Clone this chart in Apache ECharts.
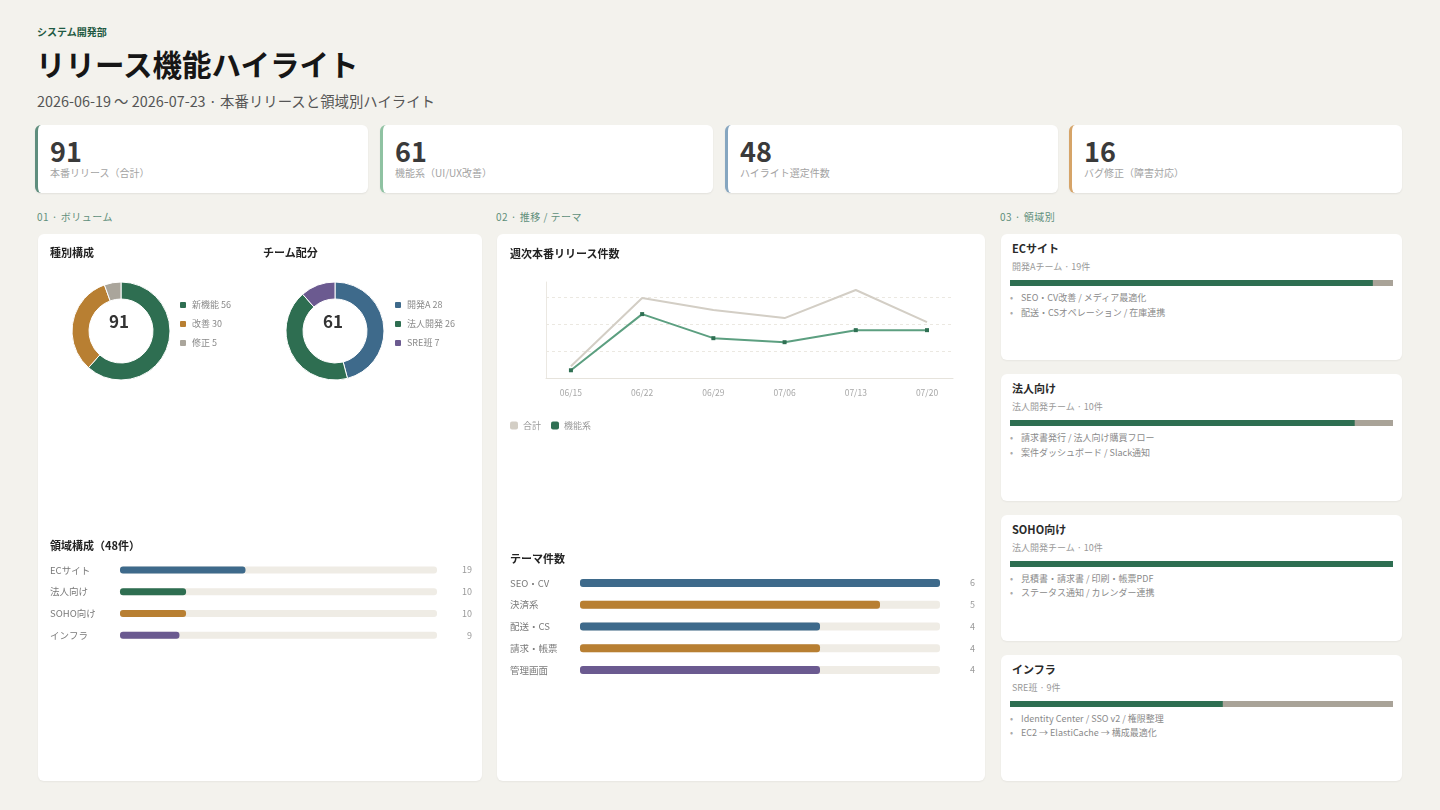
<!DOCTYPE html>
<html><head><meta charset="utf-8">
<script src="https://cdn.jsdelivr.net/npm/echarts@6/dist/echarts.min.js"></script>
<style>
*{box-sizing:border-box;margin:0;padding:0}
body{width:1440px;height:810px;background:#f3f2ed;font-family:"Noto Sans CJK JP","Noto Sans",sans-serif;position:relative;overflow:hidden;color:#222}
.abs{position:absolute;white-space:nowrap}
.dept{left:37px;top:26px;font-size:10px;line-height:12px;font-weight:700;color:#1f5a43}
.title{left:36px;top:43px;font-size:29.5px;line-height:40px;font-weight:700;color:#161616}
.sub{left:37px;top:92px;font-size:14.4px;line-height:18px;color:#555}
.kpi{top:125px;height:68px;width:333px;background:#fff;border-radius:6px;border-left:3px solid;box-shadow:0 1px 2px rgba(0,0,0,.07)}
.kpi .n{position:absolute;left:12px;top:10px;font-size:27px;line-height:32px;font-weight:700;color:#3a3a3a}
.kpi .l{position:absolute;left:12px;top:42px;font-size:10px;line-height:12px;color:#a3a3a3;white-space:nowrap}
.sec{top:211px;font-size:10px;line-height:12px;color:#5f8f7b;letter-spacing:.5px}
.panel{background:#fff;border-radius:6px;box-shadow:0 1px 2px rgba(0,0,0,.05)}
.pt{position:absolute;font-size:11px;line-height:14px;font-weight:700;color:#222;white-space:nowrap;z-index:2}
.chart{position:absolute;left:0;top:0}
.card{position:absolute;left:0;width:401px;background:#fff;border-radius:6px;box-shadow:0 1px 2px rgba(0,0,0,.05)}
.card .ct{position:absolute;left:11px;top:7px;font-size:11px;line-height:14px;font-weight:700;color:#2a2a2a}
.card .cs{position:absolute;left:11px;top:27px;font-size:9px;line-height:12px;color:#999}
.card .pb{position:absolute;left:9px;top:44px;width:383px;height:10px}
.card ul{position:absolute;left:9px;top:57px;list-style:none}
.card li{font-size:9px;line-height:14.5px;color:#8a8a8a;white-space:nowrap}
.card li:before{content:"•";display:inline-block;width:11px;color:#aaa}
</style></head>
<body>
<div class="abs dept">システム開発部</div>
<div class="abs title">リリース機能ハイライト</div>
<div class="abs sub">2026-06-19 〜 2026-07-23 · 本番リリースと領域別ハイライト</div>
<div id="kpis"></div>
<div class="abs sec" style="left:37px">01 · ボリューム</div>
<div class="abs sec" style="left:496px">02 · 推移 / テーマ</div>
<div class="abs sec" style="left:1000px">03 · 領域別</div>

<div class="abs panel" style="left:38px;top:234px;width:444px;height:547px">
  <div class="pt" style="left:12px;top:11px">種別構成</div>
  <div class="pt" style="left:225px;top:11px">チーム配分</div>
  <div class="pt" id="domTitle" style="left:12px;top:304px"></div>
  <div class="chart" id="c1" style="width:444px;height:547px"></div>
</div>
<div class="abs panel" style="left:497px;top:234px;width:488px;height:547px">
  <div class="pt" style="left:13px;top:12px">週次本番リリース件数</div>
  <div class="pt" style="left:13px;top:317px">テーマ件数</div>
  <div class="chart" id="c2" style="width:488px;height:547px"></div>
</div>
<div class="abs" id="cards" style="left:1001px;top:234px;width:401px;height:547px"></div>

<script>
// ---- data ----
const kpiValues = [91, 61, 48, 16];
const kpiLabels = ['本番リリース（合計）', '機能系（UI/UX改善）', 'ハイライト選定件数', 'バグ修正（障害対応）'];
const typeNames = ['新機能', '改善', '修正'];
const typeValues = [56, 30, 5];
const teamNames = ['開発A', '法人開発', 'SRE班'];
const teamValues = [28, 26, 7];
const domainNames = ['ECサイト', '法人向け', 'SOHO向け', 'インフラ'];
const domainValues = [19, 10, 10, 9];
const domainFeature = [18, 9, 10, 5];
const domainTeams = ['開発Aチーム', '法人開発チーム', '法人開発チーム', 'SRE班'];
const domainNotes = [
  ['SEO・CV改善 / メディア最適化', '配送・CSオペレーション / 在庫連携'],
  ['請求書発行 / 法人向け購買フロー', '案件ダッシュボード / Slack通知'],
  ['見積書・請求書 / 印刷・帳票PDF', 'ステータス通知 / カレンダー連携'],
  ['Identity Center / SSO v2 / 権限整理', 'EC2 → ElastiCache → 構成最適化']
];
const weeks = ['06/15', '06/22', '06/29', '07/06', '07/13', '07/20'];
const weeklyTotal = [3, 20, 17, 15, 22, 14];
const weeklyFeature = [2, 16, 10, 9, 12, 12];
const themeNames = ['SEO・CV', '決済系', '配送・CS', '請求・帳票', '管理画面'];
const themeValues = [6, 5, 4, 4, 4];

// ---- styles ----
const FONT = '"Noto Sans CJK JP","Noto Sans",sans-serif';
const kpiColors = ['#5f8e7e', '#8fc2a2', '#86a6c0', '#d6a468'];
const typeColors = ['#2e6e51', '#b87f32', '#aaa59b'];
const teamColors = ['#3e6a8b', '#2e6e51', '#6b5a90'];
const domainColors = ['#3e6a8b', '#2e6e51', '#b87f32', '#6b5a90'];
const themeColors = ['#3e6a8b', '#b87f32', '#3e6a8b', '#b87f32', '#6b5a90'];
const sum = a => a.reduce((s, v) => s + v, 0);

// KPI cards
const kpiLefts = [35, 380, 725, 1069];
document.getElementById('kpis').innerHTML = kpiValues.map((v, i) =>
  `<div class="abs kpi" style="left:${kpiLefts[i]}px;border-left-color:${kpiColors[i]}"><div class="n">${v}</div><div class="l">${kpiLabels[i]}</div></div>`).join('');
document.getElementById('domTitle').textContent = `領域構成（${sum(domainValues)}件）`;

// ---- panel 1 ----
const c1 = echarts.init(document.getElementById('c1'), null, {renderer: 'canvas'});
const legendBase = {
  orient: 'vertical', icon: 'roundRect', itemWidth: 8, itemHeight: 8, itemGap: 9, padding: 0,
  textStyle: {fontSize: 9, color: '#8a8a8a', fontFamily: FONT},
  selectedMode: false
};
c1.setOption({
  animation: false,
  textStyle: {fontFamily: FONT},
  legend: [
    Object.assign({}, legendBase, {left: 140, top: 66, data: typeNames,
      formatter: n => n + ' ' + typeValues[typeNames.indexOf(n)]}),
    Object.assign({}, legendBase, {left: 355, top: 66, data: teamNames,
      formatter: n => n + ' ' + teamValues[teamNames.indexOf(n)]})
  ],
  graphic: [
    {type: 'text', left: 83 - 12, top: 89 - 10, style: {text: String(sum(typeValues)), font: 'bold 17px ' + FONT, fill: '#333', width: 24, align: 'center'}},
    {type: 'text', left: 297 - 12, top: 89 - 10, style: {text: String(sum(teamValues)), font: 'bold 17px ' + FONT, fill: '#333', width: 24, align: 'center'}}
  ],
  grid: {left: 82, top: 325.2, width: 317, height: 86.8},
  xAxis: {type: 'value', min: 0, max: sum(domainValues), show: false},
  yAxis: [
    {type: 'category', inverse: true, data: domainNames, axisLine: {show: false}, axisTick: {show: false},
      axisLabel: {align: 'left', margin: 70, fontSize: 9.5, color: '#7a7a7a'}},
    {type: 'category', inverse: true, position: 'right', data: domainValues.map(String), axisLine: {show: false}, axisTick: {show: false},
      axisLabel: {align: 'right', margin: 35, fontSize: 9, color: '#9a9a9a'}}
  ],
  series: [
    {type: 'pie', name: '種別', center: [83, 97], radius: [32, 49], label: {show: false}, silent: true,
      itemStyle: {borderColor: '#fff', borderWidth: 1},
      data: typeNames.map((n, i) => ({name: n, value: typeValues[i], itemStyle: {color: typeColors[i]}}))},
    {type: 'pie', name: 'チーム', center: [297, 97], radius: [32, 49], label: {show: false}, silent: true,
      itemStyle: {borderColor: '#fff', borderWidth: 1},
      data: teamNames.map((n, i) => ({name: n, value: teamValues[i], itemStyle: {color: teamColors[i]}}))},
    {type: 'bar', barWidth: 7, showBackground: true, backgroundStyle: {color: '#efece5', borderRadius: 3},
      itemStyle: {borderRadius: 3},
      data: domainValues.map((v, i) => ({value: v, itemStyle: {color: domainColors[i]}}))}
  ]
});

// ---- panel 2 ----
const c2 = echarts.init(document.getElementById('c2'));
c2.setOption({
  animation: false,
  textStyle: {fontFamily: FONT},
  legend: {left: 13, top: 187, padding: 0, icon: 'roundRect', itemWidth: 8, itemHeight: 8, itemGap: 10, selectedMode: false,
    textStyle: {fontSize: 9, color: '#999', fontFamily: FONT}, data: ['合計', '機能系']},
  grid: [
    {left: 49, top: 48, width: 407, height: 96.3},
    {left: 83, top: 338.1, width: 360, height: 108.75}
  ],
  xAxis: [
    {gridIndex: 0, type: 'value', min: -0.35, max: 5.365,
      axisLine: {show: true, onZero: false, lineStyle: {color: '#e6e3dc'}}, axisTick: {show: false}, splitLine: {show: false},
      axisLabel: {customValues: weeks.map((w, i) => i), formatter: v => weeks[v] || '', fontSize: 8.5, color: '#a8a8a8', margin: 10}},
    {gridIndex: 1, type: 'value', min: 0, max: Math.max(...themeValues), show: false}
  ],
  yAxis: [
    {gridIndex: 0, type: 'value', min: 0, max: 24, interval: 6.75,
      axisLine: {show: true, onZero: false, lineStyle: {color: '#ebe8e2'}}, axisTick: {show: false}, axisLabel: {show: false},
      splitLine: {show: true, showMinLine: false, showMaxLine: false,
        lineStyle: {type: [3, 3], color: '#ebe8e1'}}},
    {gridIndex: 1, type: 'category', inverse: true, data: themeNames, axisLine: {show: false}, axisTick: {show: false},
      axisLabel: {align: 'left', margin: 70, fontSize: 9.5, color: '#7a7a7a'}},
    {gridIndex: 1, type: 'category', inverse: true, position: 'right', data: themeValues.map(String), axisLine: {show: false}, axisTick: {show: false},
      axisLabel: {align: 'right', margin: 35, fontSize: 9, color: '#9a9a9a'}}
  ],
  series: [
    {name: '合計', type: 'line', xAxisIndex: 0, yAxisIndex: 0, showSymbol: false, symbol: 'none',
      lineStyle: {color: '#d3cec5', width: 2}, itemStyle: {color: '#d3cec5'},
      data: weeklyTotal.map((v, i) => [i, v])},
    {name: '機能系', type: 'line', xAxisIndex: 0, yAxisIndex: 0, symbol: 'rect', symbolSize: 4, z: 3,
      lineStyle: {color: '#5c9f80', width: 2}, itemStyle: {color: '#2f7053'},
      data: weeklyFeature.map((v, i) => [i, v])},
    {type: 'bar', xAxisIndex: 1, yAxisIndex: 1, barWidth: 8, showBackground: true,
      backgroundStyle: {color: '#efece5', borderRadius: 3}, itemStyle: {borderRadius: 3},
      data: themeValues.map((v, i) => ({value: v, itemStyle: {color: themeColors[i]}}))}
  ]
});

// ---- right cards ----
const cardsEl = document.getElementById('cards');
const cardH = 126.25, cardGap = 14;
domainNames.forEach((n, i) => {
  const d = document.createElement('div');
  d.className = 'card';
  d.style.top = (i * (cardH + cardGap)) + 'px';
  d.style.height = cardH + 'px';
  d.innerHTML = `<div class="ct">${n}</div><div class="cs">${domainTeams[i]} · ${domainValues[i]}件</div>
    <div class="pb" id="pb${i}"></div><ul>${domainNotes[i].map(t => `<li>${t}</li>`).join('')}</ul>`;
  cardsEl.appendChild(d);
  const c = echarts.init(document.getElementById('pb' + i));
  c.setOption({
    animation: false,
    grid: {left: 0, right: 0, top: 0, bottom: 0},
    xAxis: {type: 'value', min: 0, max: domainValues[i], show: false},
    yAxis: {type: 'category', data: [n], show: false},
    series: [{type: 'bar', barWidth: 6, showBackground: true, backgroundStyle: {color: '#a9a398'},
      itemStyle: {color: '#2e6e51'}, data: [domainFeature[i]]}]
  });
});
</script>
</body></html>
